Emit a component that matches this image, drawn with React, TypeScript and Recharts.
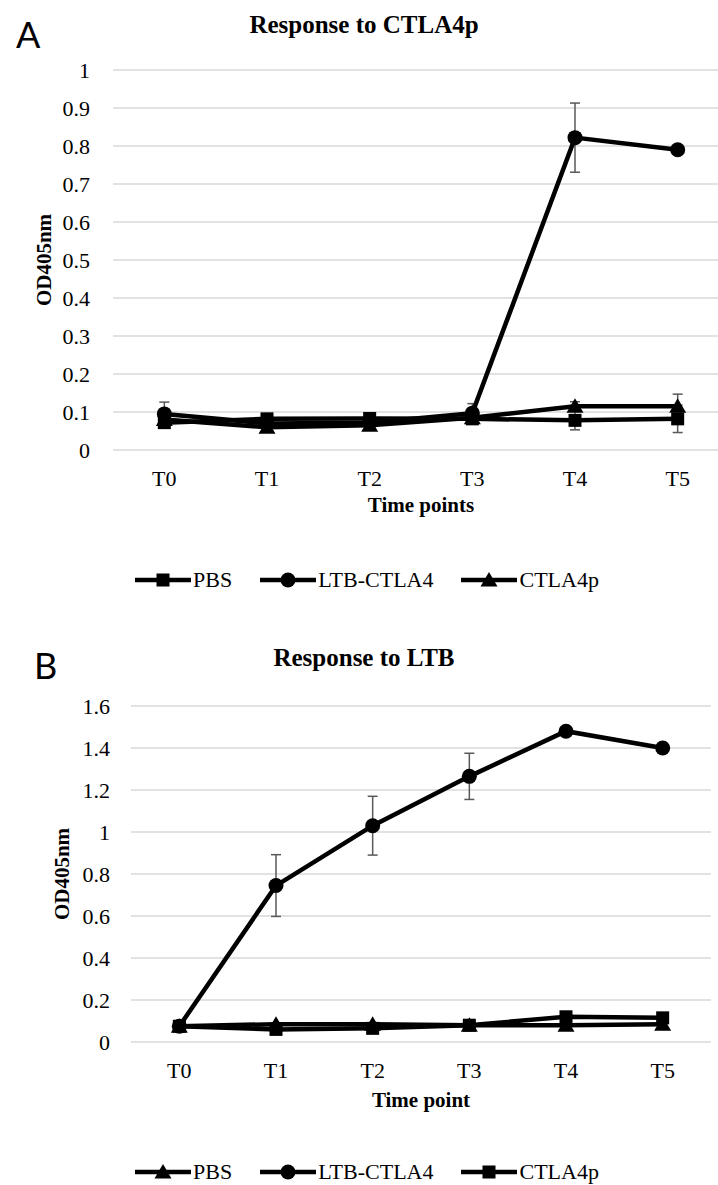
import React from 'react'
import { LineChart, Line, XAxis, YAxis, CartesianGrid, ErrorBar } from 'recharts'

const timePoints = ['T0', 'T1', 'T2', 'T3', 'T4', 'T5']

// Panel A - response to CTLA4p
const aPbs = [0.072, 0.082, 0.083, 0.082, 0.078, 0.082]
const aPbsErr = [0.01, 0.008, 0.008, 0.005, 0.025, 0.036]
const aLtb = [0.095, 0.07, 0.072, 0.097, 0.822, 0.79]
const aLtbErr = [0.031, 0.01, 0.01, 0.025, 0.091, 0.01]
const aCtla = [0.08, 0.06, 0.065, 0.085, 0.115, 0.115]
const aCtlaErr = [0.01, 0.008, 0.008, 0.01, 0.012, 0.032]
const aTicks = [0, 0.1, 0.2, 0.3, 0.4, 0.5, 0.6, 0.7, 0.8, 0.9, 1]

// Panel B - response to LTB
const bPbs = [0.075, 0.085, 0.085, 0.08, 0.08, 0.085]
const bLtb = [0.075, 0.745, 1.03, 1.265, 1.48, 1.4]
const bLtbErr = [0.01, 0.147, 0.14, 0.11, 0.02, 0.01]
const bCtla = [0.075, 0.06, 0.065, 0.08, 0.12, 0.115]
const bTicks = [0, 0.2, 0.4, 0.6, 0.8, 1, 1.2, 1.4, 1.6]

const dataA = timePoints.map((t, i) => ({
  t,
  pbs: aPbs[i], pbsErr: aPbsErr[i],
  ltb: aLtb[i], ltbErr: aLtbErr[i],
  ctla: aCtla[i], ctlaErr: aCtlaErr[i],
}))

const dataB = timePoints.map((t, i) => ({
  t,
  pbs: bPbs[i],
  ltb: bLtb[i], ltbErr: bLtbErr[i],
  ctla: bCtla[i],
}))

const SERIF = '"Liberation Serif", "Times New Roman", serif'
const LINE_W = 4.5
const ERR_COLOR = '#595959'

type Shape = 'square' | 'circle' | 'triangle'

const marker = (shape: Shape, cx: number, cy: number, key?: any) => {
  if (shape === 'square') return <rect key={key} x={cx - 6.5} y={cy - 6.5} width={13} height={13} fill="#000" />
  if (shape === 'circle') return <circle key={key} cx={cx} cy={cy} r={7.5} fill="#000" />
  return <polygon key={key} points={`${cx},${cy - 8} ${cx - 8.5},${cy + 6.5} ${cx + 8.5},${cy + 6.5}`} fill="#000" />
}

const makeDot = (shape: Shape) => (props: any) => {
  const { cx, cy, index } = props
  if (cx == null || cy == null) return <g key={index} />
  return marker(shape, cx, cy, index)
}

const LegendRow = ({ items, top }: { items: { name: string; shape: Shape }[]; top: number }) => (
  <div style={{ position: 'absolute', left: 135, top, display: 'flex', alignItems: 'center', gap: 28, fontFamily: SERIF, fontSize: 22, lineHeight: '24px', color: '#000' }}>
    {items.map((it) => (
      <div key={it.name} style={{ display: 'flex', alignItems: 'center' }}>
        <svg width={56} height={20}>
          <line x1={0} y1={10} x2={56} y2={10} stroke="#000" strokeWidth={LINE_W} />
          {marker(it.shape, 28, 10)}
        </svg>
        <span style={{ marginLeft: 2 }}>{it.name}</span>
      </div>
    ))}
  </div>
)

const tickStyle = { fill: '#000', fontSize: 22, fontFamily: SERIF }

export default function App() {
  return (
    <div style={{ position: 'absolute', left: 0, top: 0, width: 718, height: 1185, overflow: 'hidden', background: '#fff', fontFamily: SERIF }}>
      {/* Panel A */}
      <div style={{ position: 'absolute', left: 16, top: 16, fontFamily: 'Lato, "Open Sans", sans-serif', fontSize: 36, lineHeight: '36px' }}>A</div>
      <div style={{ position: 'absolute', left: 0, top: 12, width: 728, textAlign: 'center', fontSize: 25, lineHeight: '25px', fontWeight: 'bold' }}>Response to CTLA4p</div>
      <div style={{ position: 'absolute', left: 44, top: 260, transform: 'translate(-50%, -50%) rotate(-90deg)', fontSize: 21, fontWeight: 'bold', whiteSpace: 'nowrap' }}>OD405nm</div>
      <div style={{ position: 'absolute', left: 0, top: 0 }}>
        <LineChart width={740} height={500} data={dataA} margin={{ top: 70, right: 11, bottom: 20, left: 0 }}>
          <CartesianGrid vertical={false} stroke="#d9d9d9" strokeWidth={1.3} />
          <XAxis dataKey="t" scale="point" padding={{ left: 51.33, right: 51.33 }} axisLine={false} tickLine={false} tickSize={0} tickMargin={20} height={30} interval={0} tick={tickStyle} />
          <YAxis type="number" domain={[0, 1]} ticks={aTicks} width={113} axisLine={false} tickLine={false} tickSize={0} tickMargin={23} interval={0} tick={tickStyle} />
          <Line dataKey="pbs" stroke="#000" strokeWidth={LINE_W} dot={makeDot('square')} activeDot={false} isAnimationActive={false}>
            <ErrorBar dataKey="pbsErr" direction="y" width={5} stroke={ERR_COLOR} strokeWidth={1.5} isAnimationActive={false} />
          </Line>
          <Line dataKey="ltb" stroke="#000" strokeWidth={LINE_W} dot={makeDot('circle')} activeDot={false} isAnimationActive={false}>
            <ErrorBar dataKey="ltbErr" direction="y" width={5} stroke={ERR_COLOR} strokeWidth={1.5} isAnimationActive={false} />
          </Line>
          <Line dataKey="ctla" stroke="#000" strokeWidth={LINE_W} dot={makeDot('triangle')} activeDot={false} isAnimationActive={false}>
            <ErrorBar dataKey="ctlaErr" direction="y" width={5} stroke={ERR_COLOR} strokeWidth={1.5} isAnimationActive={false} />
          </Line>
        </LineChart>
      </div>
      <div style={{ position: 'absolute', left: 421, top: 505, transform: 'translate(-50%, -50%)', fontSize: 21, fontWeight: 'bold', whiteSpace: 'nowrap' }}>Time points</div>
      <LegendRow top={568} items={[{ name: 'PBS', shape: 'square' }, { name: 'LTB-CTLA4', shape: 'circle' }, { name: 'CTLA4p', shape: 'triangle' }]} />

      {/* Panel B */}
      <div style={{ position: 'absolute', left: 34, top: 647, fontFamily: 'Lato, "Open Sans", sans-serif', fontSize: 36, lineHeight: '36px' }}>B</div>
      <div style={{ position: 'absolute', left: 0, top: 645, width: 728, textAlign: 'center', fontSize: 25, lineHeight: '25px', fontWeight: 'bold' }}>Response to LTB</div>
      <div style={{ position: 'absolute', left: 62, top: 874, transform: 'translate(-50%, -50%) rotate(-90deg)', fontSize: 21, fontWeight: 'bold', whiteSpace: 'nowrap' }}>OD405nm</div>
      <div style={{ position: 'absolute', left: 0, top: 620 }}>
        <LineChart width={718} height={472} data={dataB} margin={{ top: 86, right: 7, bottom: 20, left: 0 }}>
          <CartesianGrid vertical={false} stroke="#d9d9d9" strokeWidth={1.3} />
          <XAxis dataKey="t" scale="point" padding={{ left: 48.33, right: 48.33 }} axisLine={false} tickLine={false} tickSize={0} tickMargin={20} height={30} interval={0} tick={tickStyle} />
          <YAxis type="number" domain={[0, 1.6]} ticks={bTicks} width={131} axisLine={false} tickLine={false} tickSize={0} tickMargin={21} interval={0} tick={tickStyle} />
          <Line dataKey="pbs" stroke="#000" strokeWidth={LINE_W} dot={makeDot('triangle')} activeDot={false} isAnimationActive={false} />
          <Line dataKey="ltb" stroke="#000" strokeWidth={LINE_W} dot={makeDot('circle')} activeDot={false} isAnimationActive={false}>
            <ErrorBar dataKey="ltbErr" direction="y" width={5} stroke={ERR_COLOR} strokeWidth={1.5} isAnimationActive={false} />
          </Line>
          <Line dataKey="ctla" stroke="#000" strokeWidth={LINE_W} dot={makeDot('square')} activeDot={false} isAnimationActive={false} />
        </LineChart>
      </div>
      <div style={{ position: 'absolute', left: 421, top: 1100, transform: 'translate(-50%, -50%)', fontSize: 21, fontWeight: 'bold', whiteSpace: 'nowrap' }}>Time point</div>
      <LegendRow top={1160} items={[{ name: 'PBS', shape: 'triangle' }, { name: 'LTB-CTLA4', shape: 'circle' }, { name: 'CTLA4p', shape: 'square' }]} />
    </div>
  )
}
